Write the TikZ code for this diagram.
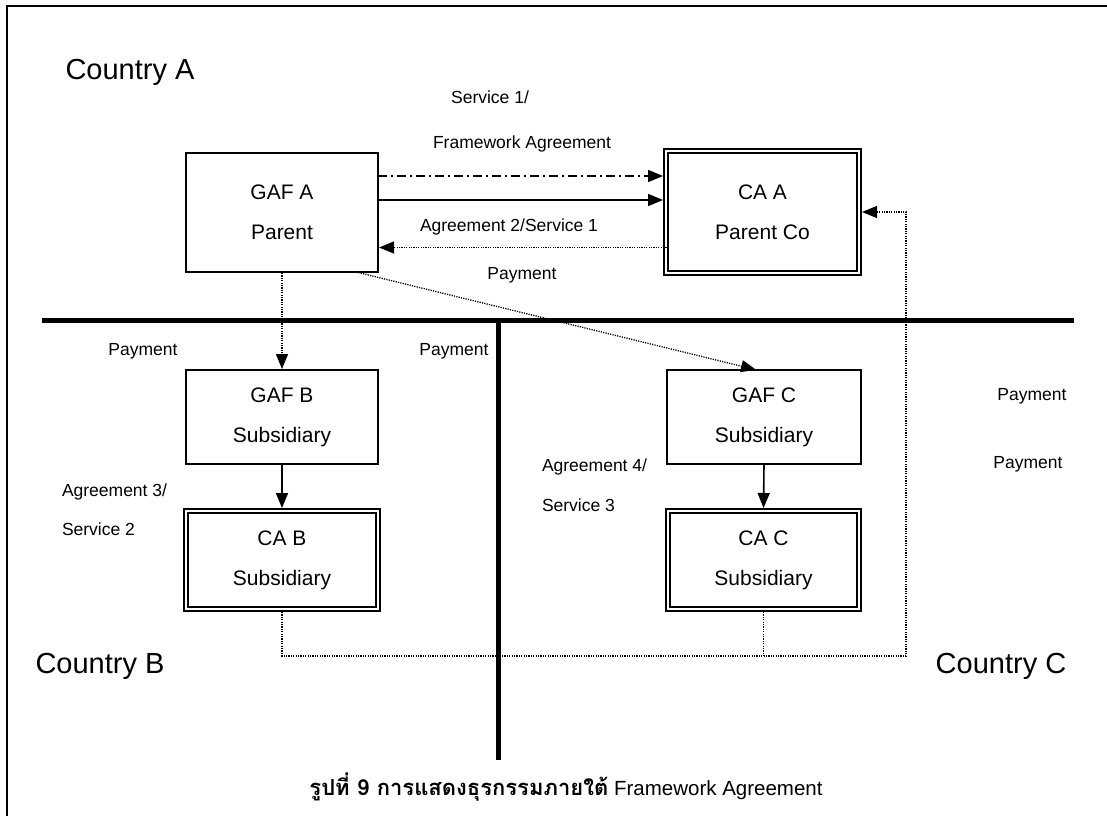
\documentclass[tikz,border=0pt]{standalone}
\usepackage{fontspec}
\setmainfont{Liberation Sans}
\newfontfamily\thaifont[Script=Thai]{Loma}
\usetikzlibrary{arrows.meta}
\begin{document}
\begin{tikzpicture}[x=1pt,y=-1pt,
  every node/.style={inner sep=0pt, outer sep=0pt},
  entity/.style={draw, line width=2pt, align=center,
    font=\fontsize{21}{40}\selectfont},
  caentity/.style={draw, line width=2pt, double=white, double distance=2pt,
    align=center, font=\fontsize{21}{40}\selectfont},
  lbl/.style={font=\fontsize{17.5}{20}\selectfont},
  region/.style={font=\fontsize{29}{33}\selectfont},
  tip/.style={-{Triangle[length=15pt,width=12pt]}},
  flow/.style={tip, line width=1.6pt},
  dashdotflow/.style={tip, line width=1.6pt, dash pattern=on 9pt off 4pt on 2pt off 4pt},
  payflow/.style={tip, line width=1.3pt, dash pattern=on 1.2pt off 1.2pt},
  payline/.style={line width=1.3pt, dash pattern=on 1.2pt off 1.2pt},
  border/.style={line width=5pt}
]
\useasboundingbox (0,0) rectangle (1107,816);

% outer frame
\draw[line width=2pt] (7,816) -- (7,6) -- (1107,6);

% country separators
\draw[border] (42,320) -- (1074,320);
\draw[border] (498,318) -- (498,760);

% entities
\node[entity, minimum width=192pt, minimum height=119pt] (gafA) at (282,212.5) {GAF A\\Parent};
\node[caentity, minimum width=193pt, minimum height=122pt] (caA) at (762.5,212) {CA A\\Parent Co};
\node[entity, minimum width=192pt, minimum height=94pt] (gafB) at (282,417) {GAF B\\Subsidiary};
\node[entity, minimum width=194pt, minimum height=94pt] (gafC) at (764,417) {GAF C\\Subsidiary};
\node[caentity, minimum width=192pt, minimum height=98pt] (caB) at (282,560) {CA B\\Subsidiary};
\node[caentity, minimum width=191pt, minimum height=98pt] (caC) at (763.5,560) {CA C\\Subsidiary};

% flows between parents
\draw[dashdotflow, shorten >=3pt] ([yshift=36.5pt]gafA.east) -- ([yshift=36.5pt]gafA.east -| caA.west);
\draw[flow, shorten >=3pt] ([yshift=12.5pt]gafA.east) -- ([yshift=12.5pt]gafA.east -| caA.west);
\draw[payflow, shorten >=1pt, shorten <=-3pt] ([yshift=-35.5pt]caA.west) -- ([yshift=-35.5pt]caA.west -| gafA.east);

% payments from parent to subsidiaries
\draw[payflow, shorten <=1pt, shorten >=1pt] (gafA.south) -- (gafB.north);
\draw[payflow, shorten >=1pt] ([xshift=-22pt]gafA.south east) -- ([xshift=-7pt]gafC.north);

% agreements within countries B and C
\draw[flow, shorten <=1pt, shorten >=3pt] (gafB.south) -- (caB.north);
\draw[flow, shorten <=1pt, shorten >=3pt] (gafC.south) -- (caC.north);

% payments back to CA A
\coordinate (bus) at (906,656);
\draw[payline, shorten <=3pt] (caC.south) -- (caC.south |- bus);
\draw[payflow, shorten <=3pt, shorten >=3pt] (caB.south) |- (bus) |- (caA.east);

% labels
\node[lbl] (l1) at (490,97) {Service 1/};
\node[lbl] (l2) at (522,144) {Framework Agreement};
\node[lbl] (l3) at (509,227) {Agreement 2/Service 1};
\node[lbl] (l4) at (522,275) {Payment};
\node[lbl] (l5) at (143,351) {Payment};
\node[lbl] (l6) at (454,351) {Payment};
\node[lbl, anchor=west] (l7) at (62,492) {Agreement 3/};
\node[lbl, anchor=west] (l8) at (62,529) {Service 2};
\node[lbl, anchor=west] (l9) at (542,467) {Agreement 4/};
\node[lbl, anchor=west] (l10) at (542,505) {Service 3};
\node[lbl] (l11) at (1032,396) {Payment};
\node[lbl] (l12) at (1028,464) {Payment};

\node[region] (cA) at (130,72) {Country A};
\node[region] (cB) at (100,666) {Country B};
\node[region] (cC) at (1001,666) {Country C};

\node[font=\fontsize{20.5}{24}\selectfont] (cap) at (566,787)
  {{\thaifont\fontsize{22}{24}\selectfont\bfseries รูปที่ 9 การแสดงธุรกรรมภายใต้} Framework Agreement};
\end{tikzpicture}
\end{document}
